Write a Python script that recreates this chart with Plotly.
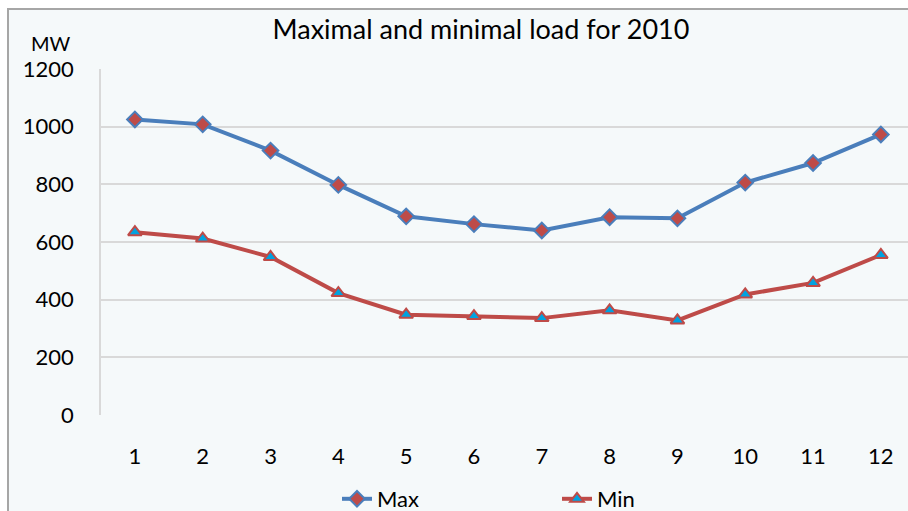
import plotly.graph_objects as go

months = [1, 2, 3, 4, 5, 6, 7, 8, 9, 10, 11, 12]
max_load = [1025, 1008, 917, 798, 689, 662, 640, 686, 682, 806, 874, 973]
min_load = [634, 612, 548, 423, 348, 343, 336, 363, 328, 418, 458, 555]
y_ticks = [0, 200, 400, 600, 800, 1000, 1200]

FONT = "Lato"
BG = "#f5f9fa"
GRID = "#d9d9d9"
W, H = 908, 511
L, T, B = 101, 69, 96
PW, PH = W - L, H - T - B

fig = go.Figure()
fig.add_trace(go.Scatter(
    x=months, y=max_load, name="Max", mode="lines+markers",
    line=dict(color="#4a7ebb", width=4),
    marker=dict(symbol="diamond", size=12, color="#be4b48",
                line=dict(color="#4a7ebb", width=2)),
))
fig.add_trace(go.Scatter(
    x=months, y=min_load, name="Min", mode="lines+markers",
    line=dict(color="#be4b48", width=4),
    marker=dict(symbol="triangle-up", size=12, color="#00a2e0",
                line=dict(color="#be4b48", width=2)),
))

# outer chart frame (top-left corner visible)
fig.add_shape(type="rect", xref="paper", yref="paper",
              x0=(8 - L) / PW, x1=1.05, y0=-0.35, y1=(H - B - 9) / PH,
              line=dict(color="#a6a6a6", width=2), fillcolor=BG, layer="below")

fig.add_annotation(text="MW", xref="paper", yref="paper",
                   x=(51 - L) / PW, y=(H - B - 43) / PH,
                   xanchor="center", yanchor="middle",
                   showarrow=False, font=dict(family=FONT, size=20, color="black"))

fig.update_layout(
    width=W, height=H,
    margin=dict(l=L, r=0, t=T, b=B, autoexpand=False),
    paper_bgcolor="white", plot_bgcolor=BG,
    font=dict(family=FONT, size=22, color="black"),
    title=dict(text="Maximal and minimal load for 2010", x=481 / W, xref="container",
               xanchor="center", y=1 - 30 / H, yref="container", yanchor="middle",
               font=dict(family=FONT, size=27, color="black")),
    showlegend=True,
    legend=dict(orientation="h", x=(337 - L) / PW, xanchor="left",
                yref="container", y=1 - 478 / H, yanchor="top", entrywidth=175,
                bgcolor="rgba(0,0,0,0)", font=dict(family=FONT, size=22)),
    xaxis=dict(range=[0.5, 12.4], tickvals=months, ticktext=[str(m) for m in months],
               showgrid=False, zeroline=False, showline=False, automargin=False,
               ticks="", ticklabelstandoff=26),
    yaxis=dict(range=[0, 1200], tickvals=y_ticks, showgrid=True, gridcolor=GRID,
               gridwidth=1.5, zeroline=False, showline=True, linecolor=GRID,
               linewidth=1.5, ticks="", ticklabelstandoff=21, automargin=False),
)

fig.write_html("out.html")
